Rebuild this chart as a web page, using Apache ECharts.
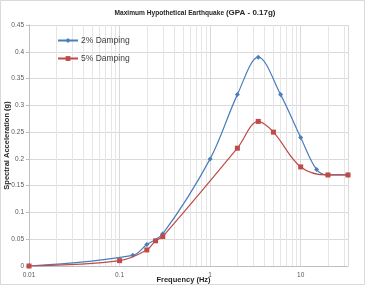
<!DOCTYPE html>
<html>
<head>
<meta charset="utf-8">
<script src="https://cdn.jsdelivr.net/npm/echarts@6/dist/echarts.min.js"></script>
<style>
  html, body { margin: 0; padding: 0; background: #fff; }
  #main { width: 369px; height: 286px; }
</style>
</head>
<body>
<div id="main"></div>
<script type="text/javascript">
    // frequency (Hz) / spectral acceleration (g)
    var freq2 = [0.01, 0.14, 0.2, 0.3, 1, 2, 3.4, 6, 10, 15, 20, 33.3];
    var acc2 = [0, 0.02, 0.04, 0.06, 0.2, 0.32, 0.39, 0.32, 0.24, 0.18, 0.17, 0.17];
    var freq5 = [0.01, 0.1, 0.2, 0.25, 0.3, 2, 3.4, 5, 10, 20, 33.3];
    var acc5 = [0, 0.01, 0.03, 0.047, 0.055, 0.22, 0.27, 0.25, 0.185, 0.17, 0.17];
    var seriesNames = ['2% Damping', '5% Damping'];
    var xMin = 0.01, xMax = 33.3;

    var pairs = function (xs, ys) {
        return xs.map(function (x, i) { return [x, ys[i]]; });
    };

    // minor log grid lines 2..9 in each decade
    var minorLines = [];
    for (var d = 0.01; d < xMax; d *= 10) {
        for (var k = 2; k <= 9; k++) {
            var v = +(d * k).toPrecision(6);
            if (v < xMax) minorLines.push({ xAxis: v });
        }
    }

    var myChart = echarts.init(document.getElementById('main'));
    var font = 'Liberation Sans, Arial, sans-serif';

    var option = {
        animation: false,
        textStyle: { fontFamily: font },
        title: {
            text: '{a|Maximum Hypothetical Earthquake }{b|(GPA - 0.17g)}',
            left: 190,
            textAlign: 'center',
            top: 4,
            textStyle: {
                rich: {
                    a: { fontSize: 6.6, fontWeight: 'bold', color: '#262626', fontFamily: font },
                    b: { fontSize: 8, fontWeight: 'bold', color: '#262626', fontFamily: font }
                }
            }
        },
        legend: {
            orient: 'vertical',
            left: 52,
            top: 31,
            itemWidth: 20,
            itemHeight: 6,
            itemGap: 9,
            textStyle: { fontSize: 8.5, color: '#404040', fontFamily: font, padding: [0, 0, 0, -2] },
            data: seriesNames
        },
        grid: { left: 29, right: 21, top: 25, bottom: 20, outerBoundsMode: 'none', containLabel: false },
        xAxis: {
            type: 'log',
            logBase: 10,
            min: xMin,
            max: xMax,
            name: 'Frequency (Hz)',
            nameLocation: 'middle',
            nameGap: 10,
            nameMoveOverlap: false,
            nameTextStyle: { fontSize: 7.5, fontWeight: 'bold', color: '#262626', padding: [0, 10, 0, 0] },
            axisLine: { lineStyle: { color: '#bfbfbf' } },
            axisTick: { show: false },
            axisLabel: {
                fontSize: 6.5, color: '#595959', margin: 6,
                showMaxLabel: false,
                formatter: function (v) { return String(+v.toPrecision(6)); }
            },
            splitLine: { show: true, lineStyle: { color: '#d9d9d9', width: 1 } }
        },
        yAxis: {
            type: 'value',
            min: 0,
            max: 0.45,
            interval: 0.05,
            name: 'Spectral Acceleration (g)',
            nameLocation: 'middle',
            nameGap: 18,
            nameMoveOverlap: false,
            nameTextStyle: { fontSize: 7.5, fontWeight: 'bold', color: '#262626' },
            axisLine: { show: true, lineStyle: { color: '#bfbfbf' } },
            axisTick: { show: true, length: 3, lineStyle: { color: '#bfbfbf' } },
            axisLabel: {
                fontSize: 6.5, color: '#595959', margin: 5,
                formatter: function (v) { return String(+v.toPrecision(6)); }
            },
            splitLine: { lineStyle: { color: '#d9d9d9', width: 1 } }
        },
        graphic: [{
            type: 'rect',
            shape: { x: 0.5, y: 0.5, width: 364, height: 284 },
            style: { fill: 'none', stroke: '#d9d9d9', lineWidth: 1 },
            silent: true
        }],
        series: [{
            name: seriesNames[0],
            type: 'line',
            smooth: 0.35,
            symbol: 'diamond',
            symbolSize: 5,
            z: 3,
            lineStyle: { color: '#4a7ebb', width: 1.2 },
            itemStyle: { color: '#4a7ebb' },
            data: pairs(freq2, acc2),
            markLine: {
                silent: true,
                symbol: 'none',
                label: { show: false },
                lineStyle: { color: '#e6e6e6', type: 'solid', width: 1 },
                z: 1,
                data: minorLines
            }
        }, {
            name: seriesNames[1],
            type: 'line',
            smooth: 0.35,
            symbol: 'rect',
            symbolSize: 5,
            z: 4,
            lineStyle: { color: '#be4b48', width: 1.2 },
            itemStyle: { color: '#be4b48' },
            data: pairs(freq5, acc5)
        }]
    };
    myChart.setOption(option);
</script>
</body>
</html>
